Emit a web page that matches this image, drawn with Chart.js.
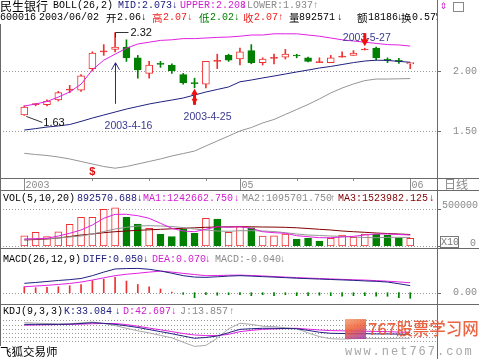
<!DOCTYPE html>
<html lang="zh-CN">
<head>
<meta charset="UTF-8">
<title>民生银行 BOLL 日线</title>
<script src="https://cdn.jsdelivr.net/npm/chart.js@4.4.0/dist/chart.umd.min.js"></script>
<style>
    body { margin: 0; background: #fff; }
    #wrap {
        position: relative; width: 479px; height: 359px; overflow: hidden; background: #fff;
        font-family: "Liberation Mono", "DejaVu Sans Mono", monospace; font-size: 10px; color: #000;
    }
    #wrap canvas { position: absolute; left: 0; }
    .t { position: absolute; white-space: nowrap; line-height: 12px; height: 12px; }
    .cn { font-family: "Noto Sans CJK SC", sans-serif; font-size: 12px; }
    .cs { font-family: "Noto Sans CJK SC", sans-serif; font-size: 10.5px; }
    .hl { position: absolute; left: 0; width: 479px; height: 1px; background: #6a6a6a; }
    .vl { position: absolute; width: 1px; background: #6a6a6a; }
    .navy { color: #202080; } .mag { color: #d020d0; } .gray { color: #8a8a8a; }
    .red { color: #f02020; } .grn { color: #008000; } .dred { color: #800000; }
</style>
</head>
<body>
<div id="wrap">
    <canvas id="cPrice" width="479" height="190" style="top:0"></canvas>
    <canvas id="cVol" width="479" height="58" style="top:190px"></canvas>
    <canvas id="cMacd" width="479" height="56" style="top:248px"></canvas>
    <canvas id="cKdj" width="479" height="55" style="top:304px"></canvas>

    <!-- frame -->
    <div class="vl" style="left:437px;top:0;height:359px"></div>
    <div class="vl" style="left:0;top:24px;height:322px"></div>
    <div class="hl" style="top:178px"></div>
    <div class="hl" style="top:190px"></div>
    <div class="hl" style="top:248px"></div>
    <div class="hl" style="top:304px"></div>

    <!-- header line 1 -->
    <div class="t cn" style="left:0;top:0">民生银行</div>
    <div class="t" style="left:53px;top:0">BOLL(26,2)</div>
    <div class="t navy" style="left:118px;top:0">MID:2.073</div>
    <div class="t navy" style="left:172px;top:0">↓</div>
    <div class="t mag" style="left:180px;top:0">UPPER:2.208</div>
    <div class="t mag" style="left:241px;top:0">↓</div>
    <div class="t gray" style="left:247px;top:0">LOWER:1.937</div>
    <div class="t gray" style="left:313px;top:0">↑</div>
    <div class="t mag" style="left:440px;top:0;font-size:12px">⇕</div>
    <div style="position:absolute;left:453px;top:2px;width:9px;height:8px;border:1px solid #888"></div>

    <!-- header line 2 -->
    <div style="position:absolute;left:0;top:12px;width:437px;height:12px;overflow:hidden">
        <div class="t" style="left:0;top:0">600016</div>
        <div class="t" style="left:39px;top:0">2003/06/02</div>
        <div class="t cs" style="left:106px;top:0">开</div>
        <div class="t" style="left:117px;top:0">2.06</div>
        <div class="t" style="left:141px;top:0">↓</div>
        <div class="t cs red" style="left:152px;top:0">高</div>
        <div class="t red" style="left:163px;top:0">2.07</div>
        <div class="t red" style="left:187px;top:0">↓</div>
        <div class="t cs grn" style="left:199px;top:0">低</div>
        <div class="t grn" style="left:210px;top:0">2.02</div>
        <div class="t grn" style="left:234px;top:0">↓</div>
        <div class="t cs red" style="left:243px;top:0">收</div>
        <div class="t red" style="left:254px;top:0">2.07</div>
        <div class="t red" style="left:278px;top:0">↑</div>
        <div class="t cs" style="left:289px;top:0">量</div>
        <div class="t" style="left:299px;top:0">892571</div>
        <div class="t" style="left:337px;top:0">↓</div>
        <div class="t cs" style="left:357px;top:0">额</div>
        <div class="t" style="left:368px;top:0">18186</div>
        <div class="t" style="left:397px;top:0">↓</div>
        <div class="t cs" style="left:401px;top:0">换</div>
        <div class="t" style="left:412px;top:0">0.57%</div>
    </div>

    <div class="t cn gray" style="left:444px;top:178px">日线</div>

    <!-- VOL header -->
    <div class="t" style="left:3px;top:193px">VOL(5,10,20)</div>
    <div class="t navy" style="left:77px;top:193px">892570.688</div>
    <div class="t navy" style="left:137px;top:193px">↓</div>
    <div class="t mag" style="left:143px;top:193px">MA1:1242662.750</div>
    <div class="t mag" style="left:234px;top:193px">↓</div>
    <div class="t gray" style="left:242px;top:193px">MA2:1095701.750</div>
    <div class="t gray" style="left:330px;top:193px">↑</div>
    <div class="t dred" style="left:338px;top:193px">MA3:1523982.125</div>
    <div class="t dred" style="left:429px;top:193px">↓</div>

    <!-- MACD header -->
    <div class="t" style="left:3px;top:254px">MACD(26,12,9)</div>
    <div class="t navy" style="left:83px;top:254px">DIFF:0.050</div>
    <div class="t navy" style="left:143px;top:254px">↓</div>
    <div class="t mag" style="left:152px;top:254px">DEA:0.070</div>
    <div class="t mag" style="left:205px;top:254px">↓</div>
    <div class="t gray" style="left:215px;top:254px">MACD:-0.040</div>
    <div class="t gray" style="left:280px;top:254px">↓</div>

    <!-- KDJ header -->
    <div class="t" style="left:3px;top:306px">KDJ(9,3,3)</div>
    <div class="t navy" style="left:64px;top:306px">K:33.084</div>
    <div class="t navy" style="left:115px;top:306px">↓</div>
    <div class="t mag" style="left:123px;top:306px">D:42.697</div>
    <div class="t mag" style="left:171px;top:306px">↓</div>
    <div class="t gray" style="left:180px;top:306px">J:13.857</div>
    <div class="t gray" style="left:229px;top:306px">↑</div>

    <div class="t cn" style="left:0;top:345px;font-size:11.5px;line-height:13px;height:13px">飞狐交易师</div>

    <!-- watermark -->
    <div style="position:absolute;left:345px;top:319px;width:21px;height:20px;opacity:.85;background:linear-gradient(160deg,#f5a070 0%,#ee5a30 45%,#9a38b8 100%)"></div>
    <div style="position:absolute;left:368px;top:317px;font-family:'Noto Sans CJK SC',sans-serif;font-size:16.5px;line-height:22px;color:#e85530;opacity:.9;font-weight:500;white-space:nowrap">767股票学习网</div>
    <div style="position:absolute;left:345px;top:346px;font-family:'Liberation Mono',monospace;font-size:12px;line-height:13px;letter-spacing:2px;color:#a8a8a8;white-space:nowrap">www.net767.com</div>
</div>

<script>
// price bars, 2003-04-04 .. 2003-06-02
const openP  = [1.633, 1.72, 1.72, 1.76, 1.84, 1.84, 2.02, 2.16, 2.18, 2.20, 2.11, 1.98, 2.06, 2.05, 1.97, 1.90, 1.89, 2.08,
                2.13, 2.10, 2.17, 2.07, 2.105, 2.115, 2.13, 2.11, 2.07, 2.07, 2.115, 2.13, 2.175, 2.19, 2.09, 2.085, 2.06];
const highP  = [1.71, 1.73, 1.76, 1.83, 1.88, 1.97, 2.16, 2.22, 2.32, 2.26, 2.13, 2.08, 2.08, 2.06, 1.98, 1.94, 2.08, 2.14,
                2.14, 2.19, 2.22, 2.11, 2.14, 2.18, 2.14, 2.115, 2.11, 2.13, 2.16, 2.17, 2.19, 2.20, 2.11, 2.106, 2.07];
const lowP   = [1.63, 1.71, 1.71, 1.75, 1.82, 1.83, 2.00, 2.13, 2.16, 2.08, 1.94, 1.94, 2.03, 1.98, 1.89, 1.86, 1.86, 2.02,
                2.08, 2.05, 2.06, 2.05, 2.06, 2.10, 2.11, 2.075, 2.07, 2.07, 2.115, 2.13, 2.175, 2.09, 2.07, 2.064, 2.02];
const closeP = [1.70, 1.72, 1.75, 1.82, 1.84, 1.96, 2.15, 2.16, 2.20, 2.11, 2.01, 2.05, 2.055, 2.00, 1.90, 1.895, 2.08, 2.08,
                2.09, 2.16, 2.07, 2.10, 2.105, 2.14, 2.125, 2.08, 2.07, 2.11, 2.115, 2.15, 2.175, 2.11, 2.088, 2.08, 2.07];

const bollUpper = [1.708, 1.725, 1.746, 1.783, 1.825, 1.89, 2.01, 2.09, 2.14, 2.19, 2.225, 2.24, 2.255, 2.26, 2.27, 2.27, 2.275, 2.28,
                   2.283, 2.29, 2.30, 2.30, 2.31, 2.31, 2.31, 2.30, 2.29, 2.275, 2.26, 2.25, 2.24, 2.23, 2.22, 2.217, 2.208];
const bollMid   = [1.508, 1.52, 1.533, 1.542, 1.554, 1.58, 1.608, 1.633, 1.658, 1.683, 1.704, 1.725, 1.742, 1.758, 1.775, 1.80, 1.825, 1.846,
                   1.867, 1.91, 1.925, 1.942, 1.958, 1.975, 1.992, 2.008, 2.025, 2.038, 2.054, 2.07, 2.083, 2.09, 2.088, 2.08, 2.073];
const bollLower = [1.314, 1.304, 1.296, 1.283, 1.267, 1.246, 1.225, 1.204, 1.19, 1.204, 1.225, 1.246, 1.267, 1.292, 1.312, 1.333, 1.375, 1.417,
                   1.458, 1.50, 1.529, 1.567, 1.596, 1.638, 1.679, 1.721, 1.767, 1.817, 1.858, 1.892, 1.92, 1.933, 1.933, 1.935, 1.937];

// volume in thousands of lots; axis shows 500000 x10
const volume = [1390, 1850, 1260, 1930, 2930, 3880, 3880, 4960, 5170, 3880, 2970, 2390, 1580, 1260, 2260, 1720, 3740, 3650,
                1850, 2610, 2470, 1350, 1390, 1620, 910, 1040, 680, 1040, 1490, 1180, 1620, 1580, 1450, 1120, 1040];
const volUp  = [1, 1, 1, 1, 1, 1, 1, 1, 1, 0, 0, 1, 0, 0, 0, 0, 1, 0, 1, 1, 0, 1, 1, 1, 0, 0, 0, 1, 1, 1, 1, 0, 0, 0, 1];
const volMa1 = [946, 986, 1040, 1351, 1716, 2162, 2837, 3742, 4283, 4283, 4094, 3742, 3067, 2391, 2027, 1932, 2256, 2608,
                2526, 2608, 2391, 1932, 1797, 1716, 1392, 1256, 1121, 1121, 1216, 1310, 1486, 1621, 1621, 1554, 1486];
const volMa2 = [905, 946, 986, 1081, 1216, 1351, 1621, 1959, 2297, 2526, 2702, 2743, 2702, 2634, 2499, 2297, 2162, 2027,
                1986, 2067, 2067, 2027, 1959, 1797, 1621, 1486, 1419, 1351, 1283, 1216, 1148, 1121, 1175, 1175, 1148];
const volMa3 = [811, 878, 946, 1081, 1283, 1486, 1621, 1797, 1932, 2027, 2121, 2189, 2256, 2324, 2391, 2459, 2526, 2567,
                2594, 2608, 2594, 2567, 2553, 2526, 2459, 2364, 2256, 2162, 2027, 1932, 1851, 1756, 1689, 1621, 1554];

const macdDiff = [0.066, 0.072, 0.079, 0.086, 0.092, 0.100, 0.120, 0.145, 0.167, 0.170, 0.171, 0.165, 0.153, 0.137, 0.120, 0.110, 0.108, 0.112,
                  0.117, 0.120, 0.117, 0.113, 0.110, 0.106, 0.102, 0.099, 0.096, 0.093, 0.090, 0.087, 0.083, 0.080, 0.075, 0.063, 0.050];
const macdDea  = [0.042, 0.047, 0.052, 0.058, 0.065, 0.075, 0.089, 0.105, 0.120, 0.130, 0.137, 0.145, 0.152, 0.145, 0.136, 0.128, 0.120, 0.121,
                  0.123, 0.124, 0.121, 0.118, 0.114, 0.110, 0.106, 0.103, 0.100, 0.097, 0.094, 0.091, 0.089, 0.085, 0.081, 0.076, 0.070];
const macdBar  = [0.042, 0.035, 0.037, 0.042, 0.049, 0.058, 0.085, 0.096, 0.108, 0.082, 0.058, 0.042, 0.026, 0.004, -0.012, -0.035, -0.014, -0.018,
                  -0.014, -0.014, -0.021, -0.014, -0.021, -0.014, -0.021, -0.021, -0.018, -0.021, -0.025, -0.021, -0.021, -0.025, -0.025, -0.035, -0.040];

const kdjK = [81, 81, 81, 81, 82, 85, 89, 86, 81, 74, 66, 56, 46, 36, 25, 14, 18, 25, 41, 57, 60, 62, 62, 61, 60, 52, 43, 38, 37, 36, 36, 35, 35, 34, 33.1];
const kdjD = [77, 78, 79, 80, 81, 82, 84, 85, 85, 80, 72, 63, 55, 46, 37, 30, 27, 27, 33, 46, 52, 57, 59, 61, 62, 58, 54, 51, 50, 49, 48, 47, 46, 44, 42.7];
const kdjJ = [89, 87, 85, 83, 84, 88, 92, 85, 75, 62, 50, 40, 28, 16, -5, -25, -20, 14, 60, 86, 81, 72, 70, 65, 60, 40, 22, 12, 10, 12, 14, 13, 12, 14, 13.9];

// date row: month labels and weekly marks (bar index)
const monthTicks = [0, 19, 34];
const monthLabels = ['2003', '05', '06'];
const weekTicks = [6, 11, 16, 24, 29];

const X_MIN = -2.14, X_MAX = 36.36;
const RED = '#f03030', GREEN = '#008000', NAVY = '#202080', MAGENTA = '#e020e0', GRAY = '#959595';

const pts = arr => arr.map((v, i) => ({x: i, y: v}));
const line = (arr, color, order) => ({
    type: 'line', data: pts(arr), borderColor: color, borderWidth: 1,
    pointRadius: 0, tension: 0, fill: false, order: order
});

function baseOptions(yMin, yMax, padTop, padBottom, decor) {
    return {
        responsive: false,
        animation: false,
        events: [],
        layout: { padding: { left: 0, right: 42, top: padTop, bottom: padBottom } },
        plugins: { legend: { display: false }, tooltip: { enabled: false }, panelDecor: decor },
        scales: {
            x: { type: 'linear', min: X_MIN, max: X_MAX, offset: false, display: false },
            y: { type: 'linear', min: yMin, max: yMax, display: false }
        }
    };
}

// dotted guide lines and right-hand labels for each panel
const panelDecor = {
    id: 'panelDecor',
    beforeDatasetsDraw(chart, args, opts) {
        const {ctx, chartArea: a, scales: {y}} = chart;
        ctx.save();
        ctx.strokeStyle = '#999';
        ctx.lineWidth = 1;
        ctx.setLineDash([1, 2]);
        (opts.dots || []).forEach(v => {
            const py = Math.round(y.getPixelForValue(v)) + 0.5;
            ctx.beginPath(); ctx.moveTo(a.left, py); ctx.lineTo(a.right, py); ctx.stroke();
        });
        ctx.restore();
    },
    afterDraw(chart, args, opts) {
        const {ctx, chartArea: a, scales: {y}} = chart;
        ctx.save();
        ctx.font = '10px "Liberation Mono", monospace';
        ctx.fillStyle = '#8a8a8a';
        ctx.strokeStyle = '#6a6a6a';
        ctx.textBaseline = 'middle';
        (opts.labels || []).forEach(t => {
            const py = y.getPixelForValue(t.v);
            ctx.beginPath();
            ctx.moveTo(a.right, Math.round(py) + 0.5); ctx.lineTo(a.right + 4, Math.round(py) + 0.5);
            ctx.stroke();
            ctx.fillText(t.text, a.right + t.dx, py + (t.dy || 0));
        });
        ctx.restore();
    }
};
Chart.register(panelDecor);

// annotations on the price panel + date row
const priceNotes = {
    id: 'priceNotes',
    afterDatasetsDraw(chart) {
        const {ctx, chartArea: a, scales: {x, y}} = chart;
        ctx.save();
        ctx.lineWidth = 1;

        // 1.63 low label
        let px = x.getPixelForValue(0), py = y.getPixelForValue(lowP[0]);
        ctx.strokeStyle = '#333';
        ctx.beginPath(); ctx.moveTo(px + 2, py + 1); ctx.lineTo(px + 18, py + 7); ctx.stroke();
        ctx.font = '11px "Liberation Sans", sans-serif';
        ctx.fillStyle = '#111';
        ctx.textBaseline = 'middle';
        ctx.fillText('1.63', px + 19, py + 8);

        // 2.32 high label
        px = Math.round(x.getPixelForValue(8)) + 0.5; py = Math.round(y.getPixelForValue(highP[8])) - 0.5;
        ctx.beginPath(); ctx.moveTo(px, py + 5); ctx.lineTo(px, py); ctx.lineTo(px + 13, py); ctx.stroke();
        ctx.fillText('2.32', px + 15, py);

        // 2003-4-16 arrow
        ctx.strokeStyle = '#2a2a80';
        const ay = y.getPixelForValue(lowP[8]) + 11;
        ctx.beginPath(); ctx.moveTo(px, ay); ctx.lineTo(px, ay + 41); ctx.stroke();
        ctx.beginPath(); ctx.moveTo(px - 4, ay + 7); ctx.lineTo(px, ay); ctx.lineTo(px + 4, ay + 7); ctx.stroke();
        ctx.font = '10.5px "Liberation Sans", sans-serif';
        ctx.fillStyle = '#3a3a90';
        ctx.textAlign = 'center';
        ctx.fillText('2003-4-16', px + 13, ay + 63);

        // 2003-4-25 red marker under the low bar
        px = x.getPixelForValue(15); py = y.getPixelForValue(lowP[15]) + 1;
        ctx.fillStyle = '#ee1010';
        ctx.beginPath(); ctx.moveTo(px, py); ctx.lineTo(px - 3.5, py + 6); ctx.lineTo(px + 3.5, py + 6); ctx.fill();
        ctx.fillRect(px - 1.5, py + 5, 3, 11);
        ctx.beginPath(); ctx.moveTo(px, py + 16); ctx.lineTo(px - 3, py + 10); ctx.lineTo(px + 3, py + 10); ctx.fill();
        ctx.fillStyle = '#3a3a90';
        ctx.fillText('2003-4-25', px + 13, py + 28);

        // 2003-5-27 label and red arrow above the bar
        px = x.getPixelForValue(30); py = y.getPixelForValue(highP[30]) - 2;
        ctx.fillText('2003-5-27', px + 2, py - 8);
        ctx.fillStyle = '#ee1010';
        ctx.fillRect(px - 1.5, py - 13, 3, 7);
        ctx.beginPath(); ctx.moveTo(px - 4, py - 7); ctx.lineTo(px + 4, py - 7); ctx.lineTo(px, py); ctx.fill();

        // $ mark
        ctx.font = 'bold 11px "Liberation Sans", sans-serif';
        ctx.fillStyle = '#e01010';
        ctx.fillText('$', x.getPixelForValue(6), a.bottom - 6);

        // date row under the panel
        ctx.textAlign = 'left';
        ctx.font = '10px "Liberation Mono", monospace';
        ctx.fillStyle = '#8a8a8a';
        ctx.strokeStyle = '#8a8a8a';
        monthTicks.forEach((i, k) => {
            const tx = Math.round(x.getPixelForValue(i)) + 0.5;
            ctx.beginPath(); ctx.moveTo(tx, a.bottom); ctx.lineTo(tx, a.bottom + 12); ctx.stroke();
            ctx.fillText(monthLabels[k], tx + 1, a.bottom + 7);
        });
        weekTicks.forEach(i => {
            const tx = Math.round(x.getPixelForValue(i)) + 0.5;
            ctx.beginPath(); ctx.moveTo(tx, a.bottom); ctx.lineTo(tx, a.bottom + 3); ctx.stroke();
        });
        ctx.restore();
    }
};

const candleColor = closeP.map((c, i) => c < openP[i] ? GREEN : RED);
const bodyFill = closeP.map((c, i) => c > openP[i] ? '#ffffff' : candleColor[i]);

new Chart(document.getElementById('cPrice'), {
    type: 'bar',
    data: {
        datasets: [
            line(bollUpper, MAGENTA, -1),
            line(bollMid, NAVY, -1),
            line(bollLower, GRAY, -1),
            {
                data: openP.map((o, i) => ({x: i, y: [o, closeP[i]]})),
                backgroundColor: bodyFill, borderColor: candleColor, borderWidth: 1,
                borderSkipped: false, barThickness: 7, minBarLength: 1, grouped: false, order: 0
            },
            {
                data: lowP.map((l, i) => ({x: i, y: [l, highP[i]]})),
                backgroundColor: candleColor, borderWidth: 0,
                barThickness: 1, grouped: false, order: 1
            }
        ]
    },
    options: baseOptions(1.1083, 2.3917, 24, 12, {
        dots: [1.5, 2.0],
        labels: [{v: 2.0, text: '2.00', dx: 16}, {v: 1.5, text: '1.50', dx: 16}]
    }),
    plugins: [priceNotes]
});

// volume panel extras: x10 box
const volBox = {
    id: 'volBox',
    afterDraw(chart) {
        const {ctx, chartArea: a} = chart;
        ctx.save();
        ctx.strokeStyle = '#777';
        ctx.strokeRect(a.right + 3.5, a.bottom - 9.5, 18, 11);
        ctx.font = '10px "Liberation Mono", monospace';
        ctx.fillStyle = '#777';
        ctx.textBaseline = 'middle';
        ctx.fillText('X10', a.right + 4, a.bottom - 4);
        ctx.restore();
    }
};

new Chart(document.getElementById('cVol'), {
    type: 'bar',
    data: {
        datasets: [
            line(volMa1, MAGENTA, 0),
            line(volMa2, GRAY, 0),
            line(volMa3, '#800000', 0),
            {
                data: pts(volume),
                backgroundColor: volUp.map(u => u ? '#ffffff' : GREEN),
                borderColor: volUp.map(u => u ? RED : GREEN),
                borderWidth: 1, borderSkipped: false, barThickness: 7, grouped: false, order: 1
            }
        ]
    },
    options: baseOptions(0, 5946, 12, 2, {
        dots: [5000, 0],
        labels: [{v: 5000, text: '500000', dx: 5, dy: -4}, {v: 0, text: '0', dx: 33, dy: -3}]
    }),
    plugins: [volBox]
});

new Chart(document.getElementById('cMacd'), {
    type: 'bar',
    data: {
        datasets: [
            line(macdDiff, NAVY, 0),
            line(macdDea, MAGENTA, 0),
            {
                data: pts(macdBar),
                backgroundColor: macdBar.map(v => v >= 0 ? RED : GREEN),
                barThickness: 1, grouped: false, order: 1
            }
        ]
    },
    options: baseOptions(-0.0655, 0.2021, 16, 2, {
        dots: [0],
        labels: [{v: 0, text: '0.00', dx: 16}]
    })
});

new Chart(document.getElementById('cKdj'), {
    type: 'line',
    data: {
        datasets: [
            line(kdjJ, '#a8a8a8', 2),
            line(kdjD, MAGENTA, 1),
            line(kdjK, NAVY, 0)
        ]
    },
    options: baseOptions(-51.9, 130.8, 10, 7, { dots: [0, 20, 40, 60, 80, 100] })
});
</script>
</body>
</html>
